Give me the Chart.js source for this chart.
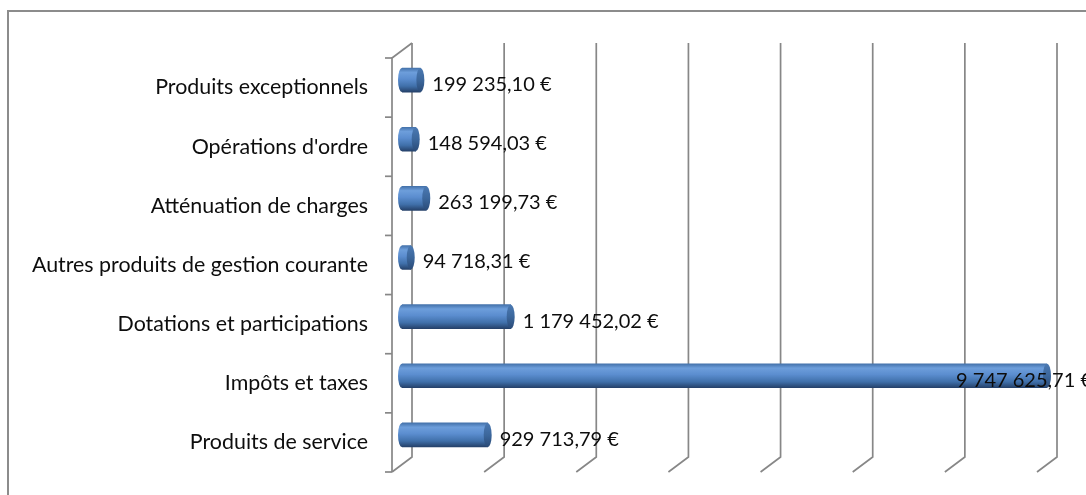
<!DOCTYPE html>
<html lang="fr">
<head>
<meta charset="utf-8">
<title>Recettes de fonctionnement</title>
<script src="https://cdn.jsdelivr.net/npm/chart.js@4/dist/chart.umd.min.js"></script>
<style>
    html, body { margin: 0; padding: 0; background: #fff; }
    #graphique { display: block; }
</style>
</head>
<body>
<canvas id="graphique" width="1086" height="495"></canvas>
<script>
const CATEGORIES = [
    "Produits exceptionnels",
    "Opérations d'ordre",
    "Atténuation de charges",
    "Autres produits de gestion courante",
    "Dotations et participations",
    "Impôts et taxes",
    "Produits de service"
];
const MONTANTS = [199235.10, 148594.03, 263199.73, 94718.31, 1179452.02, 9747625.71, 929713.79];
const GRADUATIONS = [0, 1000000, 2000000, 3000000, 4000000, 5000000, 6000000, 7000000];

const COULEUR_GRILLE = "#878787";
const PROFONDEUR_X = 20;
const PROFONDEUR_Y = -15;
const EPAISSEUR_BARRE = 24;

function formaterEuros(valeur) {
    const [entier, decimales] = valeur.toFixed(2).split(".");
    const groupes = entier.replace(/\B(?=(\d{3})+(?!\d))/g, " ");
    return `${groupes},${decimales} €`;
}

function degradeCylindre(ctx, haut, bas) {
    const degrade = ctx.createLinearGradient(0, haut, 0, bas);
    degrade.addColorStop(0, "#4472ab");
    degrade.addColorStop(0.18, "#6d9edb");
    degrade.addColorStop(0.45, "#5b8dcf");
    degrade.addColorStop(0.75, "#4070aa");
    degrade.addColorStop(1, "#25416a");
    return degrade;
}

function degradeExtremite(ctx, haut, bas) {
    const degrade = ctx.createLinearGradient(0, haut, 0, bas);
    degrade.addColorStop(0, "#4b79b2");
    degrade.addColorStop(0.5, "#3c679c");
    degrade.addColorStop(1, "#2a4b78");
    return degrade;
}

// cadre 3D : grille du fond, axe avant et obliques
const cadre3d = {
    id: "cadre3d",
    beforeDraw(chart) {
        const ctx = chart.ctx;
        const zone = chart.chartArea;
        const echelleX = chart.scales.x;

        ctx.save();
        ctx.fillStyle = "#fff";
        ctx.fillRect(0, 0, chart.width, chart.height);

        ctx.strokeStyle = "#8c8c8c";
        ctx.lineWidth = 2;
        ctx.strokeRect(8, 11, 2000, 2000);

        ctx.strokeStyle = COULEUR_GRILLE;
        ctx.lineWidth = 1.7;

        GRADUATIONS.forEach(valeur => {
            const x = echelleX.getPixelForValue(valeur);
            ctx.beginPath();
            ctx.moveTo(x + PROFONDEUR_X, zone.top + PROFONDEUR_Y);
            ctx.lineTo(x + PROFONDEUR_X, zone.bottom + PROFONDEUR_Y);
            ctx.lineTo(x, zone.bottom);
            ctx.stroke();
        });

        // axe des catégories en façade
        ctx.beginPath();
        ctx.moveTo(zone.left + PROFONDEUR_X, zone.top + PROFONDEUR_Y);
        ctx.lineTo(zone.left, zone.top);
        ctx.lineTo(zone.left, zone.bottom);
        ctx.stroke();

        const pas = (zone.bottom - zone.top) / CATEGORIES.length;
        for (let i = 0; i <= CATEGORIES.length; i++) {
            const y = zone.top + i * pas;
            ctx.beginPath();
            ctx.moveTo(zone.left - 7, y);
            ctx.lineTo(zone.left, y);
            ctx.stroke();
        }
        ctx.restore();
    },
    beforeDatasetsDraw(chart) {
        chart.ctx.save();
        chart.ctx.translate(PROFONDEUR_X / 2, PROFONDEUR_Y / 2);
    },
    afterDatasetsDraw(chart) {
        const ctx = chart.ctx;
        const echelleX = chart.scales.x;
        const barres = chart.getDatasetMeta(0).data;
        const demi = EPAISSEUR_BARRE / 2;

        barres.forEach(barre => {
            const haut = barre.y - demi;
            const bas = barre.y + demi;
            const fin = Math.min(barre.x, echelleX.right);

            ctx.fillStyle = degradeCylindre(ctx, haut, bas);
            ctx.beginPath();
            ctx.ellipse(barre.base, barre.y, 4, demi, 0, Math.PI / 2, Math.PI * 1.5);
            ctx.fill();

            ctx.fillStyle = degradeExtremite(ctx, haut, bas);
            ctx.beginPath();
            ctx.ellipse(fin, barre.y, 4, demi, 0, 0, Math.PI * 2);
            ctx.fill();
        });
        ctx.restore();

        ctx.save();
        ctx.font = "20px Lato";
        ctx.fillStyle = "#0d0d0d";
        ctx.textBaseline = "middle";
        barres.forEach((barre, i) => {
            const texte = formaterEuros(MONTANTS[i]);
            const y = barre.y - 3;
            if (barre.x > echelleX.right) {
                ctx.textAlign = "right";
                ctx.fillText(texte, chart.width + 6, y);
            } else {
                ctx.textAlign = "left";
                ctx.fillText(texte, barre.x + PROFONDEUR_X / 2 + 12, y);
            }
        });
        ctx.restore();
    }
};

new Chart(document.getElementById("graphique"), {
    type: "bar",
    data: {
        labels: CATEGORIES,
        datasets: [
            {
                data: MONTANTS,
                barThickness: EPAISSEUR_BARRE,
                borderWidth: 0,
                backgroundColor: contexte => {
                    const echelle = contexte.chart.scales.y;
                    if (!echelle || contexte.type !== "data") {
                        return "#4f81bd";
                    }
                    const centre = echelle.getPixelForValue(contexte.dataIndex);
                    if (!Number.isFinite(centre)) {
                        return "#4f81bd";
                    }
                    return degradeCylindre(contexte.chart.ctx, centre - EPAISSEUR_BARRE / 2, centre + EPAISSEUR_BARRE / 2);
                }
            }
        ]
    },
    options: {
        indexAxis: "y",
        responsive: false,
        devicePixelRatio: 1,
        animation: false,
        layout: {
            padding: { left: 0, top: 58, right: 49, bottom: 23 }
        },
        plugins: {
            legend: { display: false },
            tooltip: { enabled: false }
        },
        scales: {
            x: {
                display: false,
                min: 0,
                max: 7000000,
                ticks: { stepSize: 1000000 }
            },
            y: {
                afterFit: echelle => {
                    echelle.width = 392;
                    echelle.paddingTop = 0;
                    echelle.paddingBottom = 0;
                },
                grid: { display: false, drawTicks: false },
                border: { display: false },
                ticks: {
                    padding: 24,
                    color: "#0d0d0d",
                    font: { family: "Lato", size: 21.4 }
                }
            }
        }
    },
    plugins: [cadre3d]
});
</script>
</body>
</html>
